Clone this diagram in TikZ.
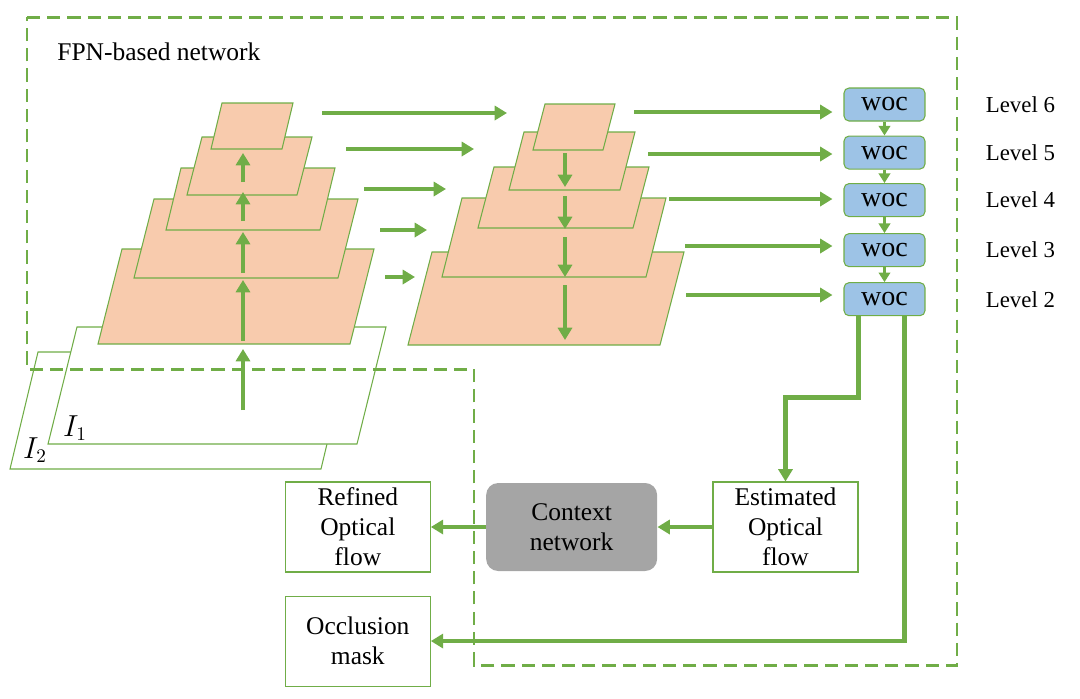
\documentclass[tikz,border=0pt]{standalone}
\usepackage{fontspec}
\setmainfont{Liberation Serif}
\usetikzlibrary{positioning}
\usetikzlibrary{arrows.meta}
\usetikzlibrary{calc}
\definecolor{netgreen}{HTML}{70AD47}
\definecolor{featpeach}{HTML}{F8CBAD}
\definecolor{wocblue}{HTML}{9DC3E6}
\definecolor{ctxgray}{HTML}{A5A5A5}
\tikzset{
        % Feature map layers
        layer/.style={draw=netgreen, line width=0.6pt, fill=featpeach},
        % Input images
        layer_img/.style={draw=netgreen, line width=0.6pt, fill=white},
        % Thick arrows
        flow/.style={draw=netgreen, line width=2.4pt, -{Triangle[length=7pt,width=8pt]}},
        % Short arrows between woc blocks
        flow_small/.style={draw=netgreen, line width=2pt, -{Triangle[length=5.5pt,width=6.5pt]}},
        % Dashed frame
        frame/.style={draw=netgreen, line width=1.7pt, dash pattern=on 7.5pt off 4pt},
        % woc blocks
        woc_block/.style={draw=netgreen, line width=0.6pt, fill=wocblue, rounded corners=0.1cm,
            minimum width=1.62cm, minimum height=0.66cm, inner sep=0pt, font=\fontsize{16}{18}\selectfont},
        % Output boxes
        out_box/.style={draw=netgreen, line width=0.6pt, fill=white, align=center, inner sep=0pt,
            minimum width=2.9cm, minimum height=1.8cm, font=\fontsize{14.5}{17}\selectfont},
        % Context network
        ctx_box/.style={fill=ctxgray, rounded corners=0.24cm, align=center, inner sep=0pt,
            minimum width=3.42cm, minimum height=1.76cm, font=\fontsize{14.5}{17}\selectfont},
        % Level labels
        level_label/.style={inner sep=0pt, anchor=west, font=\fontsize{13}{15}\selectfont}
}
\begin{document}
\begin{tikzpicture}[x=0.02cm, y=-0.02cm]
    \useasboundingbox (0,0) rectangle (1080,698);

    % input images
    \draw[layer_img] (10,469) -- ++(311,0) -- ++(28,-117) -- ++(-311,0) -- cycle;
    \draw[layer_img] (48,444) -- ++(309,0) -- ++(29,-117) -- ++(-309,0) -- cycle;
    \node[font=\fontsize{16}{18}\selectfont] (img2) at (35,450) {$I_2$};
    \node[font=\fontsize{16}{18}\selectfont] (img1) at (75,428) {$I_1$};

    % encoder and decoder pyramids
    \foreach \x/\y/\w/\h/\s in {98/344/252/95/24, 134/278/204/79/20, 166/230/154/62/15,
        187/195/110/58/15, 211/149/71/46/11, 408/345/252/93/24, 442/277/204/79/20,
        478/228/155/61/16, 509/190/111/58/15, 533/150/70/46/12}
        \draw[layer] (\x,\y) -- ++(\w,0) -- ++(\s,-\h) -- ++(-\w,0) -- cycle;

    \draw[frame] (27,17) -- (957,17) -- (957,665) -- (474,665) -- (474,369) -- (27,369) -- cycle;
    \node[anchor=west, inner sep=0pt, font=\fontsize{14.5}{17}\selectfont] (fpn) at (57,52) {FPN-based network};

    \foreach \a/\b in {410/349, 341/280, 273/232, 221/192, 182/153}
        \draw[flow] (243,\a) -- (243,\b);
    \foreach \a/\b in {153/187, 196/229, 237/277, 285/340}
        \draw[flow] (565,\a) -- (565,\b);
    \foreach \y/\a/\b in {113/322/507, 149/346/474, 189/364/446, 230/380/427, 277/385/415}
        \draw[flow] (\a,\y) -- (\b,\y);

    % woc blocks
    \node[woc_block] (woc6) at (884.5,104.5) {woc};
    \node[woc_block, below=0.28cm of woc6] (woc5) {woc};
    \node[woc_block, below=0.27cm of woc5] (woc4) {woc};
    \node[woc_block, below=0.32cm of woc4] (woc3) {woc};
    \node[woc_block, below=0.3cm of woc3] (woc2) {woc};
    \draw[flow_small] (woc6) -- (woc5);
    \draw[flow_small] (woc5) -- (woc4);
    \draw[flow_small] (woc4) -- (woc3);
    \draw[flow_small] (woc3) -- (woc2);

    \foreach \n/\x/\y in {6/634/112, 5/648/154, 4/669/199, 3/685/246, 2/686/295} {
        \coordinate (dec\n) at (\x,\y);
        \draw[flow, shorten >=0.22cm] (dec\n) -- (dec\n -| woc\n.west);
        \node[level_label, right=1.2cm of woc\n] (lvl\n) {Level \n};
    }

    % outputs
    \node[out_box] (est) at (785.5,527) {Estimated\\Optical\\flow};
    \node[ctx_box, left=1.1cm of est] (ctx) {Context\\network};
    \node[out_box, left=1.1cm of ctx] (ref) {Refined\\Optical\\flow};
    \node[out_box, below=0.46cm of ref] (occ) {Occlusion\\mask};

    \draw[flow] ($(woc2.south)+(-26,0)$) |- ($(est.north)+(0,-84)$) -- (est.north);
    \draw[flow] ($(woc2.south)+(20,0)$) |- (occ.east);
    \draw[flow] (est.west) -- (ctx.east);
    \draw[flow] (ctx.west |- ref.east) -- (ref.east);
\end{tikzpicture}
\end{document}
